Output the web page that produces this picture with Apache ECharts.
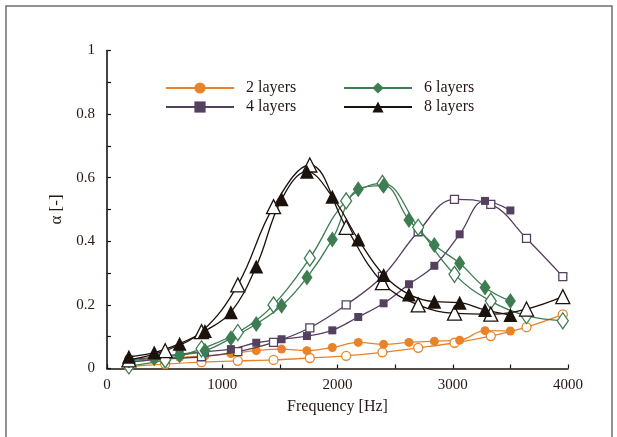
<!DOCTYPE html>
<html>
<head>
<meta charset="utf-8">
<script src="https://cdn.jsdelivr.net/npm/echarts@6/dist/echarts.min.js"></script>
<style>
html,body{margin:0;padding:0;background:#fff;}
#chart{width:617px;height:437px;}
</style>
</head>
<body>
<div id="chart"></div>
<script>
// Frequencies (Hz)
var freqFilled = [190, 410, 630, 850, 1075, 1295, 1515, 1735, 1955, 2180, 2400, 2620, 2840, 3060, 3280, 3500];
var freqOpen = [190, 505, 820, 1135, 1445, 1760, 2075, 2390, 2700, 3015, 3330, 3640, 3955];

// Absorption coefficient values
var layers2Filled = [0.020, 0.028, 0.035, 0.040, 0.047, 0.056, 0.061, 0.056, 0.066, 0.082, 0.076, 0.082, 0.086, 0.089, 0.119, 0.118];
var layers2Open = [0.006, 0.014, 0.020, 0.024, 0.027, 0.033, 0.040, 0.051, 0.065, 0.081, 0.102, 0.130, 0.170];
var layers4Filled = [0.028, 0.035, 0.045, 0.053, 0.061, 0.081, 0.092, 0.102, 0.120, 0.162, 0.205, 0.265, 0.323, 0.422, 0.527, 0.497];
var layers4Open = [0.020, 0.030, 0.037, 0.053, 0.082, 0.128, 0.200, 0.290, 0.430, 0.532, 0.516, 0.409, 0.289];
var layers6Filled = [0.025, 0.032, 0.042, 0.056, 0.095, 0.140, 0.197, 0.286, 0.406, 0.564, 0.575, 0.467, 0.388, 0.331, 0.255, 0.212];
var layers6Open = [0.008, 0.027, 0.062, 0.113, 0.200, 0.347, 0.527, 0.582, 0.444, 0.296, 0.212, 0.166, 0.150];
var layers8Filled = [0.037, 0.050, 0.078, 0.118, 0.177, 0.321, 0.532, 0.619, 0.540, 0.406, 0.294, 0.233, 0.210, 0.207, 0.184, 0.168];
var layers8Open = [0.027, 0.056, 0.116, 0.263, 0.509, 0.640, 0.444, 0.270, 0.200, 0.174, 0.171, 0.187, 0.226];

var seriesNames = ['2 layers', '4 layers', '6 layers', '8 layers'];
var xTicks = [0, 1000, 2000, 3000, 4000];
var yTicks = [0, 0.2, 0.4, 0.6, 0.8, 1];

var FONT = '"Liberation Serif", "DejaVu Serif", serif';
var TXT = '#231815';
var colors = ['#E8832A', '#54405F', '#3E7C52', '#1B120C'];
var symbols = ['circle', 'rect', 'diamond', 'triangle'];
var sizes = [9, 8, [11, 16], 14];

function pairs(xs, ys) {
  return xs.map(function (x, i) { return [x, ys[i]]; });
}

var filledSets = [layers2Filled, layers4Filled, layers6Filled, layers8Filled];
var openSets = [layers2Open, layers4Open, layers6Open, layers8Open];

var series = [];
for (var k = 0; k < 4; k++) {
  series.push({
    name: seriesNames[k] + ' (open)',
    type: 'line',
    smooth: 0.4,
    data: pairs(freqOpen, openSets[k]),
    symbol: symbols[k],
    symbolSize: sizes[k],
    lineStyle: { color: colors[k], width: 1.3 },
    itemStyle: { color: '#ffffff', borderColor: colors[k], borderWidth: 1.3 },
    z: 2 + k,
    animation: false
  });
  series.push({
    name: seriesNames[k],
    type: 'line',
    smooth: 0.4,
    data: pairs(freqFilled, filledSets[k]),
    symbol: symbols[k],
    symbolSize: sizes[k],
    lineStyle: { color: colors[k], width: 1.3 },
    itemStyle: { color: colors[k], borderColor: colors[k], borderWidth: 0 },
    z: 2 + k,
    animation: false
  });
}

var chart = echarts.init(document.getElementById('chart'), null, { renderer: 'canvas' });
var legendCommon = {
  orient: 'vertical',
  top: 75,
  itemWidth: 68,
  itemHeight: 14,
  itemGap: 3,
  textStyle: { fontFamily: FONT, fontSize: 16, color: TXT, padding: [0, 0, 0, 7] }
};
chart.setOption({
  animation: false,
  backgroundColor: '#ffffff',
  graphic: [{
    type: 'rect',
    shape: { x: 6, y: 6, width: 606, height: 440 },
    style: { fill: 'none', stroke: '#6e6e6e', lineWidth: 1.5 },
    silent: true
  }],
  grid: { left: 107, right: 49, top: 50.5, bottom: 68.5, containLabel: false },
  legend: [
    Object.assign({}, legendCommon, { left: 160, data: [seriesNames[0], seriesNames[1]] }),
    Object.assign({}, legendCommon, { left: 338, data: [seriesNames[2], seriesNames[3]] })
  ],
  xAxis: {
    type: 'value',
    min: xTicks[0],
    max: xTicks[xTicks.length - 1],
    interval: 1000,
    name: 'Frequency [Hz]',
    nameLocation: 'middle',
    nameGap: 30,
    nameTextStyle: { fontFamily: FONT, fontSize: 16, color: TXT },
    axisLine: { onZero: false, lineStyle: { color: '#1a1311', width: 1.6 } },
    axisTick: { show: true, inside: true, length: 4, lineStyle: { color: '#1a1311', width: 1.2 } },
    minorTick: { show: true, splitNumber: 2, length: 4, lineStyle: { color: '#1a1311', width: 1.2 } },
    splitLine: { show: false },
    axisLabel: { fontFamily: FONT, fontSize: 15, color: TXT, margin: 9,
      formatter: function (v) { return String(Math.round(v)); } }
  },
  yAxis: {
    type: 'value',
    min: yTicks[0],
    max: yTicks[yTicks.length - 1],
    interval: 0.2,
    name: 'α [-]',
    nameLocation: 'middle',
    nameGap: 42,
    nameRotate: 90,
    nameTextStyle: { fontFamily: FONT, fontSize: 17, color: TXT },
    axisLine: { show: true, lineStyle: { color: '#1a1311', width: 1.6 } },
    axisTick: { show: true, inside: true, length: 4, lineStyle: { color: '#1a1311', width: 1.2 } },
    minorTick: { show: true, splitNumber: 2, length: 4, lineStyle: { color: '#1a1311', width: 1.2 } },
    splitLine: { show: false },
    axisLabel: { fontFamily: FONT, fontSize: 15, color: TXT, margin: 12,
      formatter: function (v) { return String(Math.round(v * 10) / 10); } }
  },
  series: series
});
</script>
</body>
</html>
